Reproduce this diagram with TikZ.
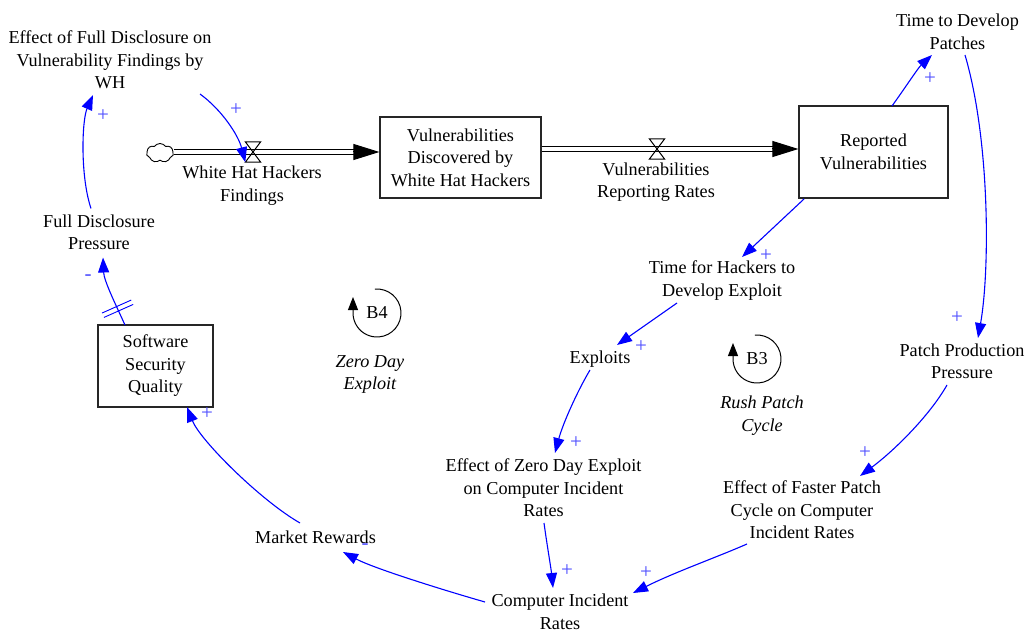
\documentclass[tikz,border=0pt]{standalone}
\usepackage{fontspec}
\setmainfont{Liberation Serif}
\usetikzlibrary{arrows.meta,calc,shapes.symbols,decorations.markings}

\definecolor{linkblue}{RGB}{0,0,255}
\definecolor{polblue}{RGB}{75,75,255}

\begin{document}
\begin{tikzpicture}[x=1pt,y=-1pt,
  txt/.style={font=\fontsize{18.2}{22.5}\selectfont, align=center, inner sep=0pt},
  stock/.style={txt, draw=black!85, line width=1.2pt},
  loopname/.style={txt, font=\fontsize{18.2}{22.5}\selectfont\itshape},
  link/.style={draw=linkblue, line width=1.1pt, -{Triangle[length=15pt,width=11pt]}},
  pol/.style={font=\fontsize{21}{24}\selectfont, text=polblue, inner sep=0pt},
  pipe/.style={draw=black, line width=1.3pt, double=white, double distance=3.4pt},
  flowtip/.style={draw=black, line width=1pt, -{Triangle[length=26pt,width=16pt]}},
  valve/.style={minimum width=15pt, minimum height=20pt, inner sep=0pt},
  valveshape/.style={draw=black, line width=1pt},
  source/.style={cloud, cloud puffs=7, cloud puff arc=110, aspect=1.5, draw=black,
                 line width=0.9pt, minimum width=27pt, minimum height=19pt, inner sep=0pt},
  loopmark/.style={draw=black, line width=1pt, -{Triangle[length=13pt,width=10pt]}},
  delay/.style={postaction={decorate}, decoration={markings,
      mark=at position 0.25 with {\draw[linkblue, line width=0.9pt, -]
        (-2.4pt,-16pt) -- (-2.4pt,16pt) (2.4pt,-16pt) -- (2.4pt,16pt);}}}
]
\useasboundingbox (0,0) rectangle (1028,631);

% stocks
\node[stock, minimum width=115pt, minimum height=82pt] (ssq) at (155.5,366) {Software\\Security\\Quality};
\node[stock, minimum width=161pt, minimum height=81pt] (vdw) at (460.5,157.5) {Vulnerabilities\\Discovered by\\White Hat Hackers};
\node[stock, minimum width=149pt, minimum height=92pt] (rv) at (873.5,152) {Reported\\Vulnerabilities};

% source cloud and valves
\node[source] (src) at (160,153) {};
\node[valve] (whf) at (253,152) {};
\node[valve] (vrr) at (657,149) {};
\coordinate (in1) at (vdw.west |- whf);
\coordinate (out2) at (vdw.east |- vrr);
\coordinate (in2) at (rv.west |- vrr);

% flow pipes
\draw[pipe] (src.east |- whf) -- ([xshift=-24pt]in1);
\draw[flowtip] ([xshift=-26pt]in1) -- (in1);
\draw[pipe] (out2) -- ([xshift=-24pt]in2);
\draw[flowtip] ([xshift=-26pt]in2) -- (in2);
\draw[valveshape] (whf.north west) -- (whf.north east) -- (whf.south west) -- (whf.south east) -- cycle;
\draw[valveshape] (vrr.north west) -- (vrr.north east) -- (vrr.south west) -- (vrr.south east) -- cycle;
\node[txt] (whfl) at (252,185.5) {White Hat Hackers\\Findings};
\node[txt] (vrrl) at (656,182) {Vulnerabilities\\Reporting Rates};

% auxiliary variables
\node[txt] (efd) at (110,60) {Effect of Full Disclosure on\\Vulnerability Findings by\\WH};
\node[txt] (fdp) at (99,232.5) {Full Disclosure\\Pressure};
\node[txt] (tdp) at (957.5,32) {Time to Develop\\Patches};
\node[txt] (ppp) at (962,361.5) {Patch Production\\Pressure};
\node[txt] (thd) at (722,280.5) {Time for Hackers to\\Develop Exploit};
\node[txt] (exp) at (600,359) {Exploits};
\node[txt] (ezd) at (543.5,488) {Effect of Zero Day Exploit\\on Computer Incident\\Rates};
\node[txt] (efp) at (802,510) {Effect of Faster Patch\\Cycle on Computer\\Incident Rates};
\node[txt] (cir) at (560,612) {Computer Incident\\Rates};
\node[txt] (mr) at (315.5,537) {Market Rewards};

% causal links
\draw[link] ($(fdp)+(-8,-24)$) .. controls +(-11,-33) and +(-11,25) .. ($(efd)+(-17,35)$);
\draw[link] ($(efd)+(90,34)$) .. controls +(22,16) and +(-7,-27) .. (whf.south west);
\draw[link, delay] ($(ssq)+(-30.5,-41)$) .. controls +(-11,-24) and +(1,23) .. ($(fdp)+(4,25)$);
\draw[link] ($(rv)+(18.5,-46)$) .. controls +(13,-18) and +(-14,13) .. ($(tdp)+(-25.5,23)$);
\draw[link] ($(tdp)+(7.5,23)$) .. controls +(25,85) and +(12,-68) .. ($(ppp)+(16,-23.5)$);
\draw[link] ($(ppp)+(-15,23.5)$) .. controls +(-17,30) and +(35,-26) .. ($(efp)+(58,-34)$);
\draw[link] ($(efp)+(-55,34)$) .. controls +(-32,14) and +(42,-21) .. ($(cir)+(73,-19)$);
\draw[link] ($(rv)+(-69.5,47)$) -- ($(thd)+(20,-23.5)$);
\draw[link] ($(thd)+(-45,22.5)$) -- ($(exp)+(17,-14)$);
\draw[link] ($(exp)+(-10,11)$) .. controls +(-12,20) and +(8,-30) .. ($(ezd)+(11.5,-35)$);
\draw[link] ($(ezd)+(0.5,35)$) .. controls +(3,22) and +(-2,-20) .. ($(cir)+(-7,-24)$);
\draw[link] ($(cir)+(-75,-10)$) .. controls +(-35,-10) and +(32,17) .. ($(mr)+(27.5,15)$);
\draw[link] ($(mr)+(-15.5,-14)$) .. controls +(-40,-23) and +(13,33) .. ($(ssq)+(31.5,41)$);

% link polarities
\node[pol] (p1) at (103,116) {+};
\node[pol] (p2) at (236,110) {+};
\node[pol] (p3) at (88,278) {-};
\node[pol] (p4) at (930,79) {+};
\node[pol] (p5) at (957,318) {+};
\node[pol] (p6) at (865,453) {+};
\node[pol] (p7) at (646,573) {+};
\node[pol] (p8) at (766,256) {+};
\node[pol] (p9) at (641,347) {+};
\node[pol] (p10) at (576,443) {+};
\node[pol] (p11) at (567,571) {+};
\node[pol] (p12) at (365,547) {-};
\node[pol] (p13) at (207,414) {+};

% loop identifiers
\node[txt] (b4) at (377,313) {B4};
\draw[loopmark] ($(b4)+(-95:24)$) arc[start angle=-95, end angle=180, radius=24] -- ++(0,-16);
\node[loopname] (zde) at (370,374.5) {Zero Day\\Exploit};
\node[txt] (b3) at (757,359) {B3};
\draw[loopmark] ($(b3)+(-95:24)$) arc[start angle=-95, end angle=180, radius=24] -- ++(0,-16);
\node[loopname] (rpc) at (762,415.5) {Rush Patch\\Cycle};
\end{tikzpicture}
\end{document}
